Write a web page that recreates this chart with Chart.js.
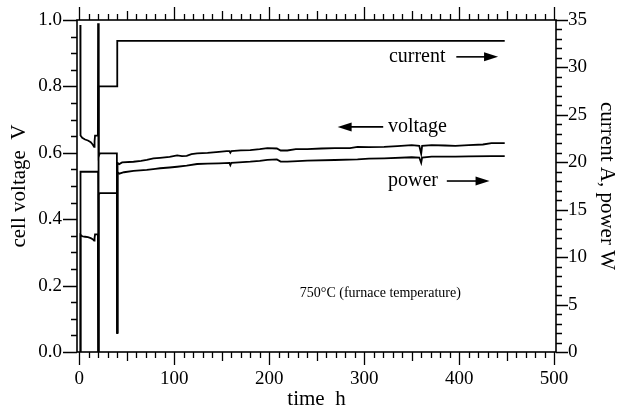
<!DOCTYPE html>
<html>
<head>
<meta charset="utf-8">
<script src="https://cdn.jsdelivr.net/npm/chart.js@4.4.0/dist/chart.umd.min.js"></script>
<style>
  html, body { margin: 0; padding: 0; background: #fff; }
  #wrap { width: 620px; height: 414px; }
</style>
</head>
<body>
<div id="wrap"><canvas id="cellChart" width="620" height="414"></canvas></div>
<script>
// readings: time in h
const voltageTime = [1, 1.2, 3, 6, 9, 12, 14, 15.5, 16, 16.5, 19.5, 19.7, 20.3, 20.5, 21.5, 39.5, 39.7, 40.2,
  42, 45, 57, 65, 71, 78, 85, 95, 103, 108, 113, 118, 124, 135, 147, 155, 158, 159, 160, 163, 170, 180, 190,
  198, 208, 212, 219, 228, 240, 255, 269, 285, 293, 305, 321, 335, 350, 358, 360, 361, 371, 385, 396, 410, 425, 434, 448];
const voltageValues = [0.985, 0.652, 0.645, 0.64, 0.637, 0.632, 0.625, 0.618, 0.635, 0.652, 0.652, 0.99, 0.99, 0.59, 0.598, 0.598, 0.06, 0.57,
  0.566, 0.571, 0.573, 0.576, 0.579, 0.583, 0.585, 0.588, 0.592, 0.59, 0.591, 0.596, 0.598, 0.6, 0.603, 0.605, 0.605, 0.6, 0.605, 0.606, 0.607, 0.608, 0.611,
  0.614, 0.613, 0.607, 0.607, 0.611, 0.611, 0.613, 0.614, 0.614, 0.618, 0.617, 0.618, 0.62, 0.623, 0.621, 0.597, 0.621, 0.623, 0.622, 0.621, 0.623, 0.625, 0.629, 0.629];

const powerTime = [1, 1.2, 3, 6, 9, 12, 14, 15.5, 16, 16.5, 19.5, 19.7, 20.3, 20.5, 21.5, 39.5, 39.7, 40.2,
  42, 47, 57, 71, 80, 85, 95, 103, 113, 124, 135, 147, 158, 159, 160, 164, 180, 190, 198, 208, 212, 219, 230,
  240, 269, 293, 305, 321, 350, 358, 360, 361, 371, 396, 410, 434, 448];
const powerValues = [0, 12.35, 12.2, 12.15, 12.1, 12.0, 11.9, 11.75, 12.0, 12.4, 12.4, 0, 0, 16.6, 16.75, 16.75, 2.0, 18.95,
  18.8, 18.95, 19.1, 19.19, 19.3, 19.37, 19.45, 19.53, 19.64, 19.82, 19.85, 19.89, 19.93, 19.7, 19.93, 19.96, 20.06, 20.15, 20.25, 20.3, 20.08, 20.06, 20.12,
  20.17, 20.24, 20.31, 20.38, 20.42, 20.53, 20.5, 19.95, 20.5, 20.59, 20.6, 20.62, 20.66, 20.66];

const currentTime = [1, 1.2, 19.7, 19.8, 20.3, 20.5, 39.7, 39.9, 448];
const currentValues = [0, 19, 19, 0, 0, 28, 28, 32.8, 32.8];

const timeTicks = [0, 100, 200, 300, 400, 500];
const voltageTicks = [0, 0.2, 0.4, 0.6, 0.8, 1.0];
const currentTicks = [0, 5, 10, 15, 20, 25, 30, 35];

const serif = '"Liberation Serif", "Times New Roman", serif';

// labels inside the plot, placed in time / voltage units
const notes = [
  { text: 'current', t: 326, v: 0.889, align: 'left', size: 20 },
  { text: 'voltage', t: 325, v: 0.678, align: 'left', size: 20 },
  { text: 'power', t: 325, v: 0.515, align: 'left', size: 20 },
  { text: '750\u00B0C (furnace temperature)', t: 317, v: 0.178, align: 'center', size: 14 }
];
const arrows = [
  { from: 397, to: 441, v: 0.889 },
  { from: 320, to: 272, v: 0.678 },
  { from: 387, to: 432, v: 0.515 }
];

function toPoints(xs, ys) {
  return xs.map((x, i) => ({ x: x, y: ys[i] }));
}

const frameTicks = {
  id: 'frameTicks',
  afterDraw(chart) {
    const { ctx, chartArea: a, scales } = chart;
    ctx.save();
    ctx.strokeStyle = '#000';
    ctx.lineWidth = 1.6;
    ctx.strokeRect(a.left, a.top, a.right - a.left, a.bottom - a.top);
    ctx.lineWidth = 1.3;
    ctx.beginPath();
    for (let t = 0; t <= 500; t += 10) {
      const px = Math.round(scales.x.getPixelForValue(t)) + 0.5;
      const len = t % 100 === 0 ? 13 : (t % 50 === 0 ? 9 : 6);
      ctx.moveTo(px, a.bottom); ctx.lineTo(px, a.bottom + len);
      ctx.moveTo(px, a.top); ctx.lineTo(px, a.top - len);
    }
    for (let i = 0; i <= 20; i++) {
      const py = Math.round(scales.y.getPixelForValue(i * 0.05)) + 0.5;
      const len = i % 4 === 0 ? 14 : 6;
      ctx.moveTo(a.left, py); ctx.lineTo(a.left - len, py);
    }
    for (let i = 0; i <= 35; i++) {
      const py = Math.round(scales.y2.getPixelForValue(i)) + 0.5;
      const len = i % 5 === 0 ? 12 : 6;
      ctx.moveTo(a.right, py); ctx.lineTo(a.right + len, py);
    }
    ctx.stroke();
    ctx.restore();
  },
  afterDatasetsDraw(chart) {
    const { ctx, scales } = chart;
    ctx.save();
    ctx.fillStyle = '#000';
    ctx.strokeStyle = '#000';
    ctx.textBaseline = 'middle';
    notes.forEach(n => {
      ctx.font = n.size + 'px ' + serif;
      ctx.textAlign = n.align;
      ctx.fillText(n.text, scales.x.getPixelForValue(n.t), scales.y.getPixelForValue(n.v));
    });
    ctx.lineWidth = 1.6;
    arrows.forEach(ar => {
      const x1 = scales.x.getPixelForValue(ar.from);
      const x2 = scales.x.getPixelForValue(ar.to);
      const y = scales.y.getPixelForValue(ar.v);
      const dir = x2 > x1 ? 1 : -1;
      ctx.beginPath();
      ctx.moveTo(x1, y);
      ctx.lineTo(x2 - dir * 12, y);
      ctx.stroke();
      ctx.beginPath();
      ctx.moveTo(x2, y);
      ctx.lineTo(x2 - dir * 14, y - 4.5);
      ctx.lineTo(x2 - dir * 14, y + 4.5);
      ctx.closePath();
      ctx.fill();
    });
    ctx.restore();
  }
};

const tickFont = { family: serif, size: 19 };
const titleFont = { family: serif, size: 21 };

const ctx = document.getElementById('cellChart').getContext('2d');
const cellChart = new Chart(ctx, {
  type: 'line',
  data: {
    datasets: [
      { label: 'voltage', data: toPoints(voltageTime, voltageValues), yAxisID: 'y' },
      { label: 'power', data: toPoints(powerTime, powerValues), yAxisID: 'y2' },
      { label: 'current', data: toPoints(currentTime, currentValues), yAxisID: 'y2' }
    ]
  },
  options: {
    responsive: false,
    animation: false,
    events: [],
    layout: { padding: { top: 20, left: 0, right: 0, bottom: 0 } },
    elements: {
      line: { borderColor: '#000', borderWidth: 1.8, tension: 0, fill: false },
      point: { radius: 0 }
    },
    plugins: { legend: { display: false }, tooltip: { enabled: false } },
    scales: {
      x: {
        type: 'linear',
        position: 'bottom',
        min: -2.5,
        max: 502,
        grid: { display: false, drawTicks: false },
        border: { display: false },
        afterBuildTicks: s => { s.ticks = timeTicks.map(v => ({ value: v })); },
        afterFit: s => { s.height = 62; s.paddingLeft = 0; s.paddingRight = 0; },
        ticks: { color: '#000', font: tickFont, padding: 16, maxRotation: 0, autoSkip: false },
        title: { display: true, text: 'time  h', color: '#000', font: titleFont, padding: { top: 0, bottom: 2 } }
      },
      y: {
        position: 'left',
        min: 0,
        max: 1,
        grid: { display: false, drawTicks: false },
        border: { display: false },
        afterBuildTicks: s => { s.ticks = voltageTicks.map(v => ({ value: v })); },
        afterFit: s => { s.width = 77; s.paddingTop = 0; s.paddingBottom = 0; },
        ticks: { color: '#000', font: tickFont, padding: 15, callback: v => v.toFixed(1) },
        title: { display: true, text: 'cell voltage  V', color: '#000', font: titleFont, padding: { top: 7, bottom: 0 } }
      },
      y2: {
        position: 'right',
        min: 0,
        max: 35,
        grid: { display: false, drawTicks: false },
        border: { display: false },
        afterBuildTicks: s => { s.ticks = currentTicks.map(v => ({ value: v })); },
        afterFit: s => { s.width = 64; s.paddingTop = 0; s.paddingBottom = 0; },
        ticks: { color: '#000', font: tickFont, padding: 12 },
        title: { display: true, text: 'current A, power W', color: '#000', font: titleFont, padding: { top: 1, bottom: 0 } }
      }
    }
  },
  plugins: [frameTicks]
});
</script>
</body>
</html>
